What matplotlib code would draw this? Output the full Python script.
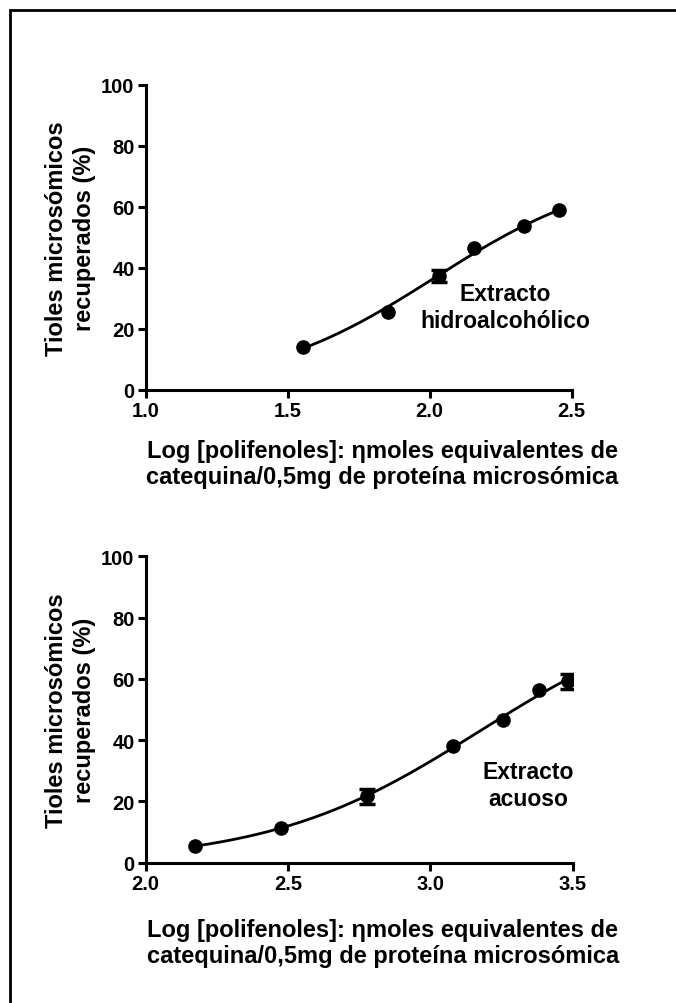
import numpy as np
import matplotlib
matplotlib.use("Agg")
import matplotlib.pyplot as plt
from matplotlib.patches import Rectangle

plt.rcParams['font.family'] = ['Liberation Sans', 'DejaVu Sans']
plt.rcParams['font.weight'] = 'bold'

# Top panel: hydroalcoholic extract
x_hidro = [1.553, 1.854, 2.033, 2.156, 2.331, 2.457]
y_hidro = [14.2, 25.5, 37.3, 46.4, 53.9, 58.9]
err_hidro = [0, 0, 2.0, 0, 0, 0]

# Bottom panel: aqueous extract
x_acuoso = [2.173, 2.477, 2.779, 3.081, 3.256, 3.383, 3.482]
y_acuoso = [5.5, 11.2, 21.7, 38.0, 46.7, 56.5, 59.2]
err_acuoso = [0, 0, 2.5, 0, 0, 0, 2.5]

yticks = [0, 20, 40, 60, 80, 100]
xticks_top = [1.0, 1.5, 2.0, 2.5]
xticks_bot = [2.0, 2.5, 3.0, 3.5]

ylabel = "Tioles microsómicos\nrecuperados (%)"
xlabel = "Log [polifenoles]: \u03b7moles equivalentes de\ncatequina/0,5mg de proteína microsómica"

W, H = 676, 1004
fig = plt.figure(figsize=(W / 100, H / 100), dpi=100)

# outer frame (only left and top edges fall inside the image)
fig.patches.append(Rectangle((10 / W, -0.05), 1.2, 1.05 - 11 / H, transform=fig.transFigure,
                             fill=False, edgecolor='black', linewidth=2, clip_on=False))


def logistic_fit(xs, ys):
    # sigmoidal dose-response, bottom=0, top fitted (grid search + linearised fit)
    best = None
    for top in np.linspace(ys.max() + 1, 200, 400):
        z = np.log10(ys / (top - ys))
        slope, icpt = np.polyfit(xs, z, 1)
        pred = top / (1 + 10 ** (-(slope * xs + icpt)))
        sse = np.sum((pred - ys) ** 2)
        if best is None or sse < best[0]:
            best = (sse, top, slope, icpt)
    _, top, slope, icpt = best
    return lambda x: top / (1 + 10 ** (-(slope * x + icpt)))


def panel(rect, xs, ys, errs, xticks, label, label_xy, xlab_y):
    ax = fig.add_axes(rect)
    xs = np.array(xs); ys = np.array(ys); errs = np.array(errs)
    f = logistic_fit(xs, ys)
    xf = np.linspace(xs.min(), xs.max(), 200)
    ax.plot(xf, f(xf), color='black', lw=2)
    ax.plot(xs, ys, 'o', color='black', ms=9.5)
    m = errs > 0
    ax.errorbar(xs[m], ys[m], yerr=errs[m], fmt='none', ecolor='black',
                elinewidth=4, capsize=6, capthick=2.5)
    ax.set_xlim(xticks[0], xticks[-1])
    ax.set_ylim(0, 100)
    ax.set_xticks(xticks)
    ax.set_xticklabels([f"{t:.1f}" for t in xticks])
    ax.set_yticks(yticks)
    ax.spines['top'].set_visible(False)
    ax.spines['right'].set_visible(False)
    for s in ('left', 'bottom'):
        ax.spines[s].set_linewidth(2.2)
    ax.tick_params(direction='out', length=6, width=2.2, labelsize=14.5, pad=2)
    for t in ax.get_xticklabels() + ax.get_yticklabels():
        t.set_fontweight('bold')
    ax.text(-0.176, 0.5, ylabel, transform=ax.transAxes, rotation=90,
            ha='center', va='center', fontsize=17, fontweight='bold',
            linespacing=1.3)
    ax.text(0.555, xlab_y, xlabel, transform=ax.transAxes, ha='center',
            va='top', fontsize=17, fontweight='bold', linespacing=1.2)
    ax.text(label_xy[0], label_xy[1], label, ha='center', va='center',
            fontsize=16.5, fontweight='bold', linespacing=1.2)
    return ax


panel([145.7 / W, 1 - 391 / H, 426 / W, 305 / H], x_hidro, y_hidro, err_hidro,
      xticks_top, "Extracto\nhidroalcohólico", (2.265, 27.2), -0.16)
panel([145.7 / W, 1 - 863.7 / H, 427 / W, 306.4 / H], x_acuoso, y_acuoso, err_acuoso,
      xticks_bot, "Extracto\nacuoso", (3.343, 25.4), -0.18)

fig.savefig("out.png", dpi=100)
